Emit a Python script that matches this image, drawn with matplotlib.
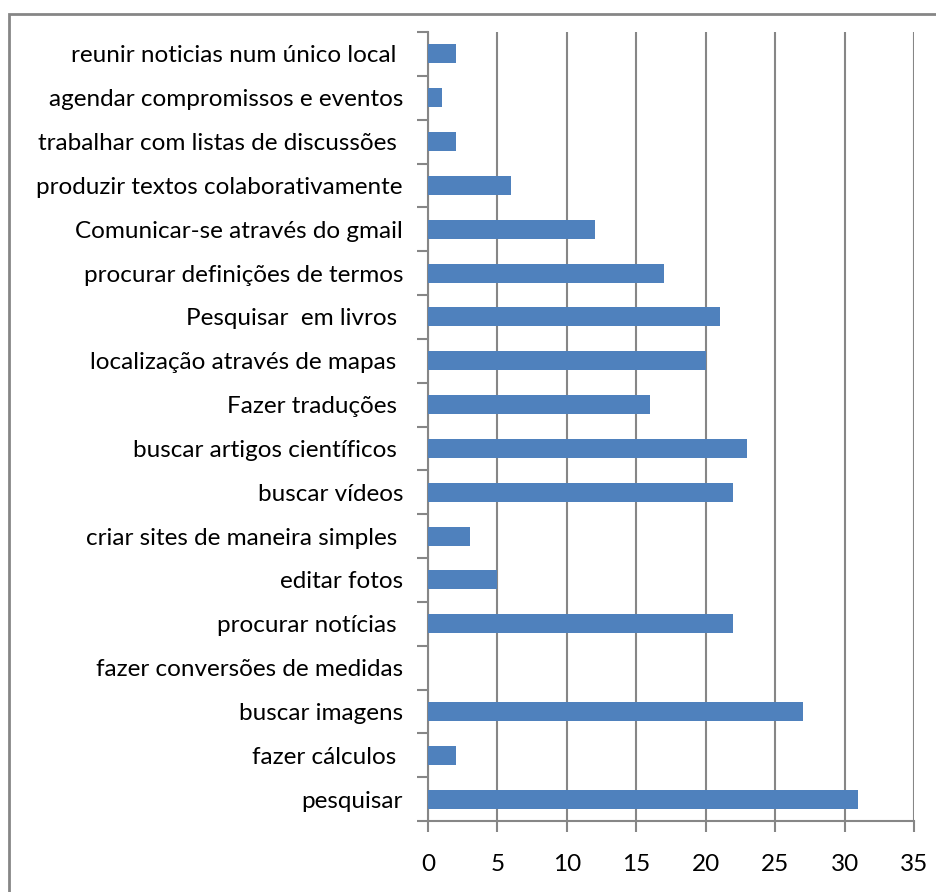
import matplotlib
matplotlib.use("Agg")
import matplotlib.pyplot as plt
from matplotlib.patches import Rectangle

plt.rcParams['font.family'] = ['Lato', 'DejaVu Sans']

# categories listed bottom to top
atividades = [
    "pesquisar",
    "fazer cálculos ",
    "buscar imagens",
    "fazer conversões de medidas",
    "procurar notícias ",
    "editar fotos",
    "criar sites de maneira simples ",
    "buscar vídeos",
    "buscar artigos científicos ",
    "Fazer traduções ",
    "localização através de mapas ",
    "Pesquisar  em livros ",
    "procurar definições de termos",
    "Comunicar-se através do gmail",
    "produzir textos colaborativamente",
    "trabalhar com listas de discussões ",
    "agendar compromissos e eventos",
    "reunir noticias num único local ",
]
respostas = [31, 2, 27, 0, 22, 5, 3, 22, 23, 16, 20, 21, 17, 12, 6, 2, 1, 2]
xticks = [0, 5, 10, 15, 20, 25, 30, 35]

fig = plt.figure(figsize=(9.36, 8.92), dpi=100)
ax = fig.add_axes([428 / 936, 1 - 821 / 892, (914 - 428) / 936, (821 - 32) / 892])

grid_col = '#868686'
pos = list(range(len(atividades)))
ax.barh(pos, respostas, height=0.43, color='#4F81BD', zorder=3)

ax.set_xlim(0, 35)
ax.set_ylim(-0.5, len(atividades) - 0.5)
ax.set_xticks(xticks)
ax.grid(axis='x', color=grid_col, linewidth=1.5, zorder=0)

ax.set_yticks([p - 0.5 for p in pos] + [len(atividades) - 0.5])
ax.set_yticklabels([])
ax.set_yticks(pos, minor=True)
ax.set_yticklabels(atividades, minor=True)
ax.tick_params(axis='y', which='minor', length=0, pad=18, labelsize=17.5)
ax.tick_params(axis='y', which='major', length=8, width=1.5, color=grid_col)
ax.tick_params(axis='x', length=8, width=1.5, color=grid_col, pad=16, labelsize=17.5)

for side in ['top', 'right']:
    ax.spines[side].set_visible(False)
for side in ['left', 'bottom']:
    ax.spines[side].set_color(grid_col)
    ax.spines[side].set_linewidth(1.5)

# outer chart frame
fig.patches.append(Rectangle((9 / 936, -0.01), 1.02, 1 - 14 / 892 + 0.01,
                             transform=fig.transFigure, fill=False,
                             edgecolor='#868686', linewidth=2))

fig.savefig('out.png', dpi=100)
